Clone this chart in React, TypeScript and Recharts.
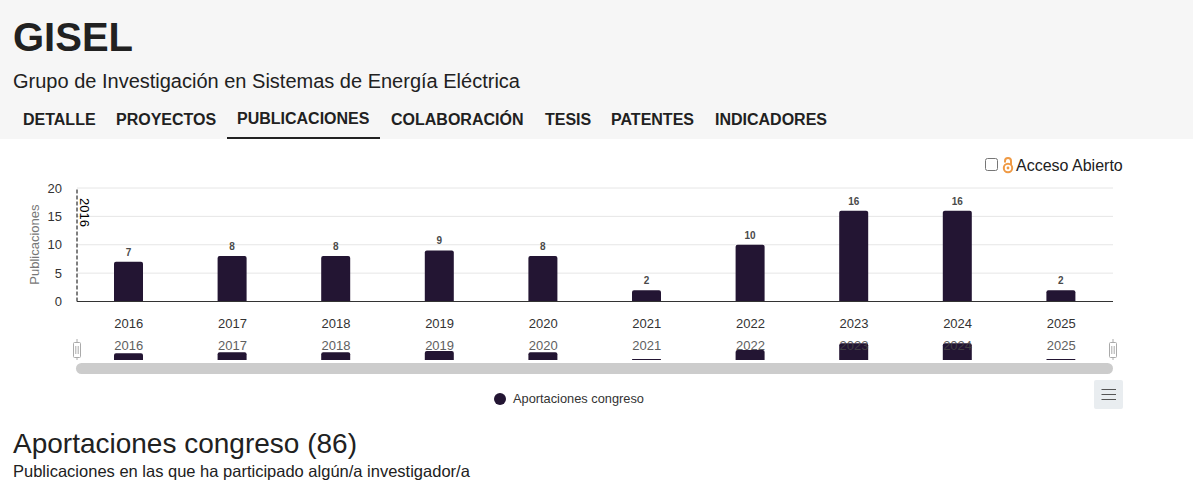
import React from "react";
import { Bar, BarChart, CartesianGrid, LabelList, Legend, ReferenceLine, XAxis, YAxis } from "recharts";

const years = ["2016", "2017", "2018", "2019", "2020", "2021", "2022", "2023", "2024", "2025"];
const congreso = [7, 8, 8, 9, 8, 2, 10, 16, 16, 2];
const yTicks = [0, 5, 10, 15, 20];
const tabs = ["DETALLE", "PROYECTOS", "PUBLICACIONES", "COLABORACIÓN", "TESIS", "PATENTES", "INDICADORES"];
const tabLefts = [23, 116, 237, 391, 545, 611, 715];

const chartData = years.map((y, i) => ({ year: y, value: congreso[i] }));
const FONT = '"Liberation Sans", Arial, sans-serif';
const BAR = "#231533";

const abs = (left: number, top: number, extra: React.CSSProperties = {}): React.CSSProperties => ({
    position: "absolute", left, top, whiteSpace: "nowrap", ...extra
});

function AnnotLabel({ viewBox }: any) {
    const x = viewBox.x + 3;
    const y = viewBox.y + 10;
    return (
        <text x={x} y={y} transform={`rotate(90 ${x} ${y})`} fontSize={13} fill="#000" fontFamily={FONT}>2016</text>
    );
}

function LegendRow({ payload }: any) {
    return (
        <div style={{ display: "flex", alignItems: "center", gap: 7 }}>
            {(payload || []).map((p: any) => (
                <React.Fragment key={p.value}>
                    <span style={{ width: 12, height: 12, borderRadius: "50%", background: p.color }} />
                    <span style={{ color: "#333", fontSize: 12.8, lineHeight: "14px", fontFamily: FONT }}>{p.value}</span>
                </React.Fragment>
            ))}
        </div>
    );
}

function Handle({ left }: { left: number }) {
    return (
        <svg style={abs(left, 339)} width={10} height={22}>
            <path d="M5 0V3M5 18V21" stroke="#aaa" />
            <rect x={1.5} y={3.5} width={7} height={15} rx={1} fill="#fff" stroke="#aaa" />
            <path d="M3.8 7V15M6.2 7V15" stroke="#aaa" />
        </svg>
    );
}

export default function App() {
    return (
        <div style={{ position: "absolute", left: 0, top: 0, width: 1193, height: 488, background: "#fff", overflow: "hidden", fontFamily: FONT, color: "#212121" }}>
            <div style={abs(0, 0, { width: 1193, height: 139, background: "#f6f6f6" })} />
            <div style={abs(13, 14, { fontSize: 40, fontWeight: 700, lineHeight: "46px" })}>GISEL</div>
            <div style={abs(13, 69, { fontSize: 20, lineHeight: "24px" })}>Grupo de Investigación en Sistemas de Energía Eléctrica</div>
            {tabs.map((t, i) => (
                <div key={t} style={abs(tabLefts[i], i === 2 ? 109 : 110, { fontSize: 16, fontWeight: 700, lineHeight: "19px" })}>{t}</div>
            ))}
            <div style={abs(227, 137, { width: 153, height: 2, background: "#212121" })} />

            <input type="checkbox" readOnly style={abs(985, 158, { margin: 0, width: 13, height: 13 })} />
            <svg style={abs(1002, 157)} width={12} height={17} viewBox="0 0 12 17">
                <circle cx={6} cy={11} r={4.2} fill="none" stroke="#ef9a45" strokeWidth={2} />
                <circle cx={6} cy={11} r={1.4} fill="#ef9a45" />
                <path d="M3 5.5V4a3 3 0 0 1 6 0V8" fill="none" stroke="#ef9a45" strokeWidth={2} />
            </svg>
            <div style={abs(1016, 156, { fontSize: 16, lineHeight: "19px" })}>Acceso Abierto</div>

            {/* main chart */}
            <div style={abs(0, 170)}>
                <BarChart width={1193} height={240} data={chartData} margin={{ top: 18, right: 80, bottom: 64.5, left: 47 }} barCategoryGap={0}>
                    <CartesianGrid vertical={false} stroke="#e6e6e6" />
                    <XAxis dataKey="year" axisLine={{ stroke: "#333" }} tickLine={false} tick={{ fontSize: 13, fill: "#333", fontFamily: FONT }} tickMargin={11} height={30} interval={0} />
                    <YAxis width={30} domain={[0, 20]} ticks={yTicks} axisLine={false} tickLine={false} tick={{ fontSize: 13, fill: "#333", fontFamily: FONT }} tickMargin={9} label={{ value: "Publicaciones", angle: -90, position: "insideLeft", offset: 0, dx: -13, dy: 40, fontSize: 13, fill: "#777", fontFamily: FONT }} />
                    <ReferenceLine x="2016" position="start" stroke="#000" strokeDasharray="4 2" label={<AnnotLabel />} />
                    <Bar dataKey="value" name="Aportaciones congreso" fill={BAR} barSize={29} radius={[2, 2, 0, 0]} isAnimationActive={false}>
                        <LabelList dataKey="value" position="top" offset={6} style={{ fontSize: 10, fontWeight: 700, fill: "#4a4a4a", fontFamily: FONT }} />
                    </Bar>
                    <Legend content={<LegendRow />} height={0} wrapperStyle={{ position: "absolute", left: 494, top: 222, width: 200 }} />
                </BarChart>
            </div>

            {/* navigator chart */}
            <div style={abs(0, 335)}>
                <BarChart width={1193} height={26} data={chartData} margin={{ top: 7, right: 80, bottom: 1, left: 77 }} barCategoryGap={0}>
                    <XAxis dataKey="year" hide />
                    <YAxis hide domain={[1, 17]} />
                    <Bar dataKey="value" fill={BAR} barSize={29} radius={[2, 2, 0, 0]} isAnimationActive={false} />
                </BarChart>
            </div>
            <div style={abs(0, 329, { opacity: 0.85 })}>
                <BarChart width={1193} height={26} data={chartData} margin={{ top: 0, right: 80, bottom: 0, left: 77 }} barCategoryGap={0}>
                    <XAxis dataKey="year" axisLine={false} tickLine={false} height={20} interval={0} tickMargin={0} tick={{ fontSize: 13, fill: "#444", fontFamily: FONT }} />
                </BarChart>
            </div>
            <Handle left={72} />
            <Handle left={1108} />
            <div style={abs(76, 363, { width: 1037, height: 11, borderRadius: 6, background: "#cccccc" })} />

            <svg style={abs(1094, 380)} width={29} height={29}>
                <rect width={29} height={29} rx={2} fill="#e9edf0" />
                <path d="M7.5 9.5H22M7.5 14.5H22M7.5 19.5H22" stroke="#555" />
            </svg>

            <div style={abs(13, 428, { fontSize: 28, lineHeight: "32px" })}>Aportaciones congreso (86)</div>
            <div style={abs(13, 462, { fontSize: 16.5, lineHeight: "18px" })}>Publicaciones en las que ha participado algún/a investigador/a</div>
        </div>
    );
}
